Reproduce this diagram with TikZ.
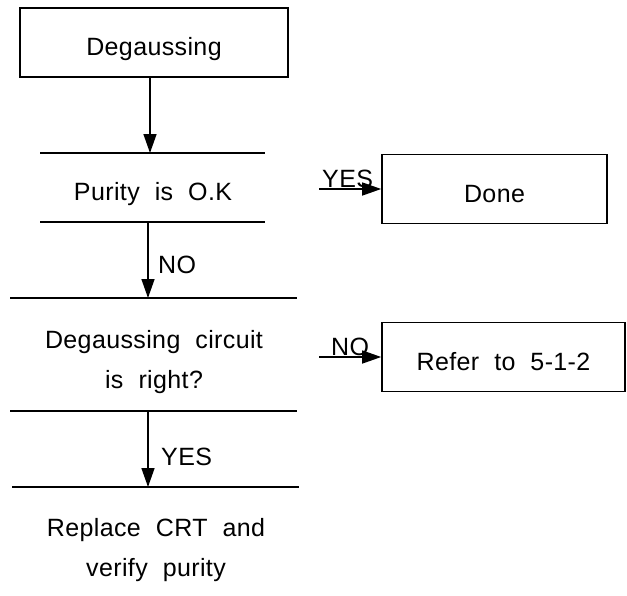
\documentclass[tikz,border=0pt]{standalone}
\usepackage{fontspec}
\setmainfont{Liberation Sans}[LetterSpace=1.5]
\usetikzlibrary{arrows.meta}
\newcommand\mywsp{\spaceskip=0.6em\relax}
\begin{document}
\begin{tikzpicture}[x=1pt,y=-1pt,
  every node/.style={font=\fontsize{25}{40}\selectfont\mywsp,inner sep=0pt,align=center},
  box/.style={draw,line width=1.6pt,minimum width=#1,minimum height=69pt,text height=26pt,text depth=0pt},
  hl/.style={line width=1.4pt},
  arr/.style={line width=1.4pt,-{Triangle[length=19pt,width=13pt]}},
  lab/.style={anchor=base west}]
\useasboundingbox (0,0) rectangle (627,595);
% boxes
\node[box=268pt] (deg) at (154,42.5) {Degaussing};
\node[box=225pt] (done) at (494.5,189) {Done};
\node[box=243pt] (ref) at (503.5,357) {Refer to 5-1-2};
% decision texts
\node[anchor=base] (pur) at (153,200) {Purity is O.K};
\node (circ) at (154,362.5) {Degaussing circuit\\is right?};
\node (repl) at (156,550) {Replace CRT and\\verify purity};
% decision lines
\coordinate (pTop) at (150,153);
\coordinate (pBot) at (148,222);
\coordinate (cTop) at (148,298);
\coordinate (cBot) at (148,411);
\coordinate (rTop) at (148,487);
\draw[hl] (40,153) -- (265,153);
\draw[hl] (40,222) -- (265,222);
\draw[hl] (10,298) -- (297,298);
\draw[hl] (10,411) -- (297,411);
\draw[hl] (12,487) -- (299,487);
% vertical connectors
\draw[arr] (deg.south -| pTop) -- (pTop);
\draw[arr] (pBot) -- (cTop);
\draw[arr] (cBot) -- (rTop);
\node[lab] (nov) at (158,273) {NO};
\node[lab] (yesv) at (161,465) {YES};
% side connectors
\coordinate (y1) at (319,189);
\coordinate (n1) at (319,357);
\draw[arr] (y1) -- (done.west);
\draw[arr] (n1) -- (ref.west);
\node[lab] (yeslab) at (322,187) {YES};
\node[lab] (nolab) at (331,355) {NO};
\end{tikzpicture}
\end{document}
